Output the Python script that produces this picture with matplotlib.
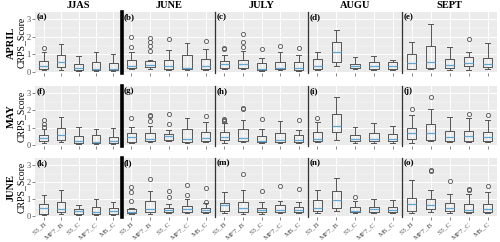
import matplotlib
matplotlib.use("Agg")
import matplotlib.pyplot as plt
from matplotlib.ticker import MultipleLocator

plt.rcParams['font.family'] = ['Liberation Serif', 'DejaVu Serif']

models = ["S3_B", "MF7_B", "S3_C", "MF7_C", "MS_C"]
col_titles = ["JJAS", "JUNE", "JULY", "AUGU", "SEPT"]
row_titles = ["APRIL", "MAY", "JUNE"]
panel_labels = ["(a)", "(b)", "(c)", "(d)", "(e)",
                "(f)", "(g)", "(h)", "(i)", "(j)",
                "(k)", "(l)", "(m)", "(n)", "(o)"]

# each box: (whislo, q1, med, q3, whishi, [outliers])
april_jjas = [(0.10, 0.15, 0.30, 0.60, 1.10, [1.35]),
              (0.12, 0.25, 0.55, 0.95, 1.60, []),
              (0.05, 0.10, 0.20, 0.45, 0.88, []),
              (0.05, 0.10, 0.15, 0.58, 1.15, []),
              (0.05, 0.10, 0.15, 0.50, 1.00, [])]
april_june = [(0.15, 0.20, 0.30, 0.65, 1.10, [1.40, 2.00]),
              (0.15, 0.25, 0.40, 0.60, 0.65, [1.20, 1.45, 1.70, 1.95]),
              (0.10, 0.15, 0.30, 0.64, 1.26, [1.90]),
              (0.08, 0.13, 0.20, 0.93, 1.65, []),
              (0.10, 0.15, 0.30, 0.72, 1.30, [1.75])]
april_july = [(0.13, 0.23, 0.45, 0.62, 0.97, [1.30, 1.35]),
              (0.13, 0.20, 0.45, 0.64, 1.16, [1.40, 1.70, 2.17]),
              (0.05, 0.10, 0.15, 0.52, 0.77, [1.30]),
              (0.08, 0.13, 0.20, 0.56, 1.10, [1.45]),
              (0.05, 0.10, 0.20, 0.55, 0.93, [1.35])]
april_augu = [(0.10, 0.14, 0.30, 0.74, 1.12, []),
              (0.30, 0.58, 1.12, 1.69, 2.38, []),
              (0.15, 0.20, 0.30, 0.45, 0.83, []),
              (0.10, 0.14, 0.30, 0.55, 0.90, []),
              (0.10, 0.15, 0.30, 0.55, 0.68, [])]
april_sept = [(0.13, 0.15, 0.48, 1.03, 1.70, []),
              (0.13, 0.20, 0.54, 1.45, 2.75, []),
              (0.10, 0.20, 0.39, 0.72, 1.40, []),
              (0.10, 0.30, 0.52, 0.83, 1.12, [1.88]),
              (0.13, 0.25, 0.43, 0.81, 1.63, [])]

may_jjas = [(0.10, 0.20, 0.40, 0.58, 0.90, [1.05, 1.20, 1.42]),
            (0.13, 0.30, 0.55, 0.97, 1.62, []),
            (0.06, 0.10, 0.20, 0.53, 1.01, []),
            (0.06, 0.10, 0.15, 0.57, 0.92, []),
            (0.06, 0.10, 0.20, 0.47, 0.97, [])]
may_june = [(0.10, 0.16, 0.45, 0.68, 1.01, [1.56]),
            (0.15, 0.23, 0.35, 0.68, 1.11, [1.36, 1.65, 1.75]),
            (0.23, 0.29, 0.49, 0.62, 0.88, [1.23, 1.79]),
            (0.10, 0.16, 0.33, 0.92, 1.56, []),
            (0.15, 0.20, 0.39, 0.72, 1.33, [1.66])]
may_july = [(0.10, 0.25, 0.45, 0.72, 1.25, [1.38, 1.43, 1.48]),
            (0.15, 0.20, 0.39, 0.92, 1.46, [2.10, 2.15]),
            (0.10, 0.15, 0.20, 0.49, 0.94, [1.52]),
            (0.10, 0.15, 0.29, 0.68, 1.40, []),
            (0.10, 0.15, 0.29, 0.55, 0.88, [1.46])]
may_augu = [(0.15, 0.23, 0.35, 0.74, 1.33, [1.56]),
            (0.29, 0.72, 1.07, 1.79, 2.79, []),
            (0.10, 0.23, 0.35, 0.55, 1.03, []),
            (0.10, 0.20, 0.35, 0.68, 1.27, []),
            (0.10, 0.20, 0.35, 0.62, 1.11, [])]
may_sept = [(0.10, 0.33, 0.66, 0.97, 1.72, [2.09]),
            (0.23, 0.29, 0.68, 1.21, 2.10, [2.79]),
            (0.15, 0.23, 0.43, 0.78, 1.62, []),
            (0.15, 0.23, 0.49, 0.78, 1.56, [1.81]),
            (0.15, 0.20, 0.45, 0.74, 1.42, [1.72])]

june_jjas = [(0.06, 0.08, 0.48, 0.72, 1.22, []),
             (0.10, 0.19, 0.39, 0.81, 1.51, []),
             (0.06, 0.10, 0.29, 0.39, 0.64, []),
             (0.06, 0.08, 0.19, 0.52, 1.00, []),
             (0.06, 0.10, 0.25, 0.44, 0.81, [])]
june_june = [(0.10, 0.14, 0.23, 0.39, 0.44, [0.87, 1.39, 1.70]),
             (0.10, 0.19, 0.39, 0.87, 1.45, [2.17]),
             (0.14, 0.19, 0.35, 0.48, 0.68, [1.10, 1.49]),
             (0.14, 0.19, 0.39, 0.58, 1.00, [1.20, 1.84]),
             (0.14, 0.19, 0.33, 0.44, 0.77, [0.83, 1.64])]
june_july = [(0.14, 0.25, 0.62, 0.73, 1.41, []),
             (0.10, 0.19, 0.43, 0.83, 1.51, [2.48]),
             (0.10, 0.19, 0.35, 0.48, 0.81, [1.45]),
             (0.14, 0.19, 0.35, 0.64, 0.87, [1.74]),
             (0.14, 0.19, 0.33, 0.54, 0.83, [1.61])]
june_augu = [(0.14, 0.25, 0.48, 0.91, 1.51, []),
             (0.25, 0.44, 0.91, 1.45, 2.26, []),
             (0.14, 0.19, 0.29, 0.52, 0.87, [1.10]),
             (0.14, 0.19, 0.39, 0.52, 1.00, []),
             (0.14, 0.19, 0.35, 0.52, 0.93, [])]
june_sept = [(0.15, 0.29, 0.68, 1.06, 2.13, []),
             (0.23, 0.39, 0.64, 0.97, 1.51, [2.65, 2.69]),
             (0.15, 0.25, 0.44, 0.77, 1.30, [2.07]),
             (0.14, 0.19, 0.33, 0.68, 1.26, [1.53, 1.57]),
             (0.15, 0.23, 0.39, 0.68, 1.39, [1.78])]

data = [[april_jjas, april_june, april_july, april_augu, april_sept],
        [may_jjas, may_june, may_july, may_augu, may_sept],
        [june_jjas, june_june, june_july, june_augu, june_sept]]

W, H = 500, 242
fig = plt.figure(figsize=(W / 100, H / 100), dpi=100)

x_edges = [35, 122, 215, 308, 402, 497]
y_rows = [(12, 73), (86, 146), (158, 217)]

box_color = "#555555"
med_color = "#5fa8d8"

for r in range(3):
    for c in range(5):
        x0, x1 = x_edges[c], x_edges[c + 1]
        yt, yb = y_rows[r]
        ax = fig.add_axes([x0 / W, 1 - yb / H, (x1 - x0) / W, (yb - yt) / H])
        ax.set_facecolor("#ebebeb")
        stats = []
        for (lo, q1, med, q3, hi, fl), name in zip(data[r][c], models):
            stats.append(dict(whislo=lo, q1=q1, med=med, q3=q3, whishi=hi,
                              fliers=fl, label=name))
        ax.bxp(stats, positions=range(1, 6), widths=0.5, showfliers=True,
               boxprops=dict(color=box_color, linewidth=0.7),
               whiskerprops=dict(color=box_color, linewidth=0.7),
               capprops=dict(color=box_color, linewidth=0.7),
               medianprops=dict(color=med_color, linewidth=0.9),
               flierprops=dict(marker="o", markersize=3.0, markerfacecolor="none",
                               markeredgecolor=box_color, markeredgewidth=0.6),
               capwidths=0.25)
        ax.set_xlim(0.5, 5.5)
        ax.set_ylim(-0.08, 3.43)
        ax.yaxis.set_major_locator(MultipleLocator(1))
        ax.yaxis.set_minor_locator(MultipleLocator(0.5))
        ax.grid(which="major", color="white", linewidth=0.7)
        ax.grid(which="minor", axis="y", color="white", linewidth=0.35)
        ax.set_axisbelow(True)
        for s in ax.spines.values():
            s.set_visible(False)
        if c > 0:
            ax.spines["left"].set_visible(True)
            ax.spines["left"].set_color("black" if c == 1 else "#333333")
            ax.spines["left"].set_linewidth(2.6 if c == 1 else 0.9)
        ax.tick_params(axis="both", which="both", length=2, width=0.5,
                       color="#555555", labelsize=6, pad=1)
        ax.tick_params(axis="y", which="minor", length=0)
        if c == 0:
            ax.tick_params(axis="y", labelcolor="#4d4d4d")
        else:
            ax.tick_params(axis="y", which="major", length=0, labelleft=False)
        ax.set_xticks(range(1, 6))
        if r == 2:
            ax.set_xticklabels(models, rotation=40, ha="right",
                               rotation_mode="anchor", fontsize=5.3,
                               color="#4d4d4d")
        else:
            ax.set_xticklabels([])
        ax.text(0.015, 0.98, panel_labels[r * 5 + c], transform=ax.transAxes,
                ha="left", va="top", fontsize=6.5, fontweight="bold")
        if r == 0:
            ax.set_title(col_titles[c], fontsize=7.5, fontweight="bold", pad=3)

for r in range(3):
    yt, yb = y_rows[r]
    yc = 1 - (yt + yb) / 2 / H
    fig.text(11 / W, yc, row_titles[r], rotation=90, ha="center", va="center",
             fontsize=7.5, fontweight="bold")
    fig.text(21 / W, yc, "CRPS_Score", rotation=90, ha="center", va="center",
             fontsize=7)

fig.savefig("out.png", dpi=100)
